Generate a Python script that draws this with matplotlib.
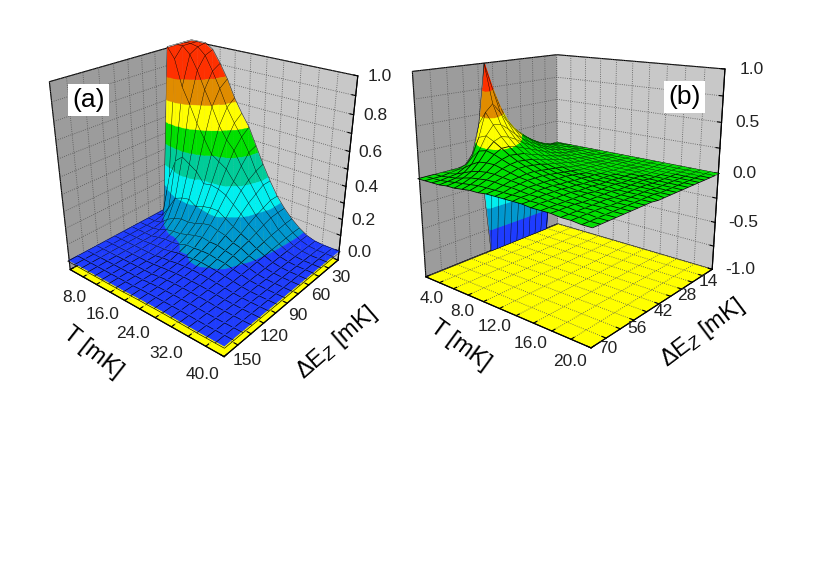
import matplotlib
matplotlib.use('Agg')
import matplotlib.pyplot as plt
import numpy as np
from mpl_toolkits.mplot3d.art3d import Poly3DCollection
from mpl_toolkits.mplot3d import proj3d

plt.rcParams['font.family'] = ['Liberation Sans', 'DejaVu Sans']
plt.rcParams['mathtext.fontset'] = 'custom'
plt.rcParams['mathtext.rm'] = 'Liberation Sans'
plt.rcParams['mathtext.it'] = 'Liberation Sans:italic'

# ---- panel (a): T [mK] x dE_Z [mK] -> value (0..1)
T_a = [0, 2, 4, 6, 8, 10, 12, 14, 16, 18, 20, 22, 24, 26, 28, 30, 32, 34, 36, 38, 40]
dE_a = [0, 10, 20, 30, 40, 50, 60, 70, 80, 90, 100, 110, 120, 130, 140, 150]
Z_a = [
    [1.00, 1.00, 1.00, 1.00, 0.00, 0.00, 0.00, 0.00, 0.00, 0.00, 0.00, 0.00, 0.00, 0.00, 0.00, 0.00],
    [1.00, 1.00, 1.00, 0.94, 0.24, 0.01, 0.00, 0.00, 0.00, 0.00, 0.00, 0.00, 0.00, 0.00, 0.00, 0.00],
    [1.00, 0.99, 0.96, 0.79, 0.36, 0.08, 0.01, 0.00, 0.00, 0.00, 0.00, 0.00, 0.00, 0.00, 0.00, 0.00],
    [0.97, 0.95, 0.88, 0.70, 0.40, 0.16, 0.05, 0.01, 0.00, 0.00, 0.00, 0.00, 0.00, 0.00, 0.00, 0.00],
    [0.90, 0.87, 0.78, 0.60, 0.37, 0.18, 0.075, 0.031, 0.011, 0.004, 0.00, 0.00, 0.00, 0.00, 0.00, 0.00],
    [0.82, 0.78, 0.69, 0.52, 0.34, 0.19, 0.09, 0.04, 0.02, 0.008, 0.00, 0.00, 0.00, 0.00, 0.00, 0.00],
    [0.72, 0.68, 0.59, 0.44, 0.28, 0.16, 0.09, 0.045, 0.02, 0.009, 0.00, 0.00, 0.00, 0.00, 0.00, 0.00],
    [0.64, 0.60, 0.52, 0.41, 0.29, 0.18, 0.10, 0.06, 0.03, 0.016, 0.009, 0.002, 0.00, 0.00, 0.00, 0.00],
    [0.57, 0.53, 0.47, 0.38, 0.28, 0.19, 0.12, 0.075, 0.046, 0.027, 0.012, 0.007, 0.00, 0.00, 0.00, 0.00],
    [0.47, 0.45, 0.39, 0.32, 0.26, 0.19, 0.13, 0.084, 0.047, 0.027, 0.019, 0.011, 0.006, 0.004, 0.003, 0.002],
    [0.37, 0.35, 0.32, 0.28, 0.22, 0.16, 0.116, 0.076, 0.052, 0.036, 0.022, 0.014, 0.01, 0.006, 0.004, 0.003],
    [0.28, 0.28, 0.25, 0.22, 0.18, 0.13, 0.105, 0.076, 0.052, 0.037, 0.024, 0.016, 0.011, 0.007, 0.005, 0.003],
    [0.20, 0.20, 0.18, 0.16, 0.135, 0.106, 0.08, 0.064, 0.045, 0.032, 0.022, 0.015, 0.011, 0.007, 0.005, 0.004],
    [0.14, 0.14, 0.136, 0.12, 0.10, 0.082, 0.068, 0.054, 0.04, 0.028, 0.02, 0.014, 0.01, 0.007, 0.005, 0.004],
    [0.09, 0.088, 0.081, 0.074, 0.064, 0.054, 0.043, 0.034, 0.027, 0.02, 0.015, 0.011, 0.008, 0.006, 0.004, 0.003],
    [0.05, 0.05, 0.046, 0.041, 0.037, 0.031, 0.027, 0.021, 0.017, 0.013, 0.01, 0.0075, 0.006, 0.004, 0.003, 0.002],
    [0.02, 0.02, 0.018, 0.016, 0.014, 0.012, 0.01, 0.008, 0.006, 0.005, 0.004, 0.003, 0.002, 0.002, 0.001, 0.001],
    [0.005, 0.005, 0.005, 0.004, 0.004, 0.003, 0.003, 0.002, 0.002, 0.001, 0.001, 0.001, 0.001, 0.00, 0.00, 0.00],
    [0.00, 0.00, 0.00, 0.00, 0.00, 0.00, 0.00, 0.00, 0.00, 0.00, 0.00, 0.00, 0.00, 0.00, 0.00, 0.00],
    [0.00, 0.00, 0.00, 0.00, 0.00, 0.00, 0.00, 0.00, 0.00, 0.00, 0.00, 0.00, 0.00, 0.00, 0.00, 0.00],
    [0.00, 0.00, 0.00, 0.00, 0.00, 0.00, 0.00, 0.00, 0.00, 0.00, 0.00, 0.00, 0.00, 0.00, 0.00, 0.00],
]

# ---- panel (b): T [mK] x dE_Z [mK] -> value (-1..1)
T_b = [0, 1, 2, 3, 4, 5, 6, 7, 8, 9, 10, 11, 12, 13, 14, 15, 16, 17, 18, 19, 20]
dE_b = [0, 3.5, 7, 10.5, 14, 17.5, 21, 24.5, 28, 31.5, 35, 38.5, 42, 45.5, 49, 52.5, 56, 59.5, 63, 66.5, 70]
Z_b = [
    [0, 0, -1, -1, -1, -1, -1, -1, -1, -1, -1, -1, 0, 0, 0, 0, 0, 0, 0, 0, 0],
    [0, 0.02, 0.03, 0.05, 0.08, 0.12, 0.17, 0.23, 0.30, 0.40, 0.55, 0.75, 1.00, 0.42, 0.14, 0.05, 0.02, 0.01, 0, 0, 0],
    [0, 0.02, 0.03, 0.05, 0.07, 0.10, 0.14, 0.19, 0.25, 0.32, 0.41, 0.52, 0.62, 0.55, 0.32, 0.14, 0.06, 0.02, 0.01, 0, 0],
    [0, 0.01, 0.03, 0.04, 0.06, 0.08, 0.11, 0.15, 0.19, 0.24, 0.30, 0.37, 0.43, 0.44, 0.35, 0.22, 0.11, 0.05, 0.02, 0.01, 0],
    [0, 0.01, 0.02, 0.03, 0.05, 0.07, 0.09, 0.12, 0.15, 0.19, 0.23, 0.28, 0.32, 0.34, 0.31, 0.24, 0.15, 0.08, 0.04, 0.02, 0.01],
    [0, 0.01, 0.02, 0.03, 0.04, 0.05, 0.07, 0.09, 0.12, 0.15, 0.18, 0.21, 0.24, 0.26, 0.26, 0.22, 0.16, 0.10, 0.06, 0.03, 0.01],
    [0, 0.01, 0.01, 0.02, 0.03, 0.04, 0.06, 0.07, 0.09, 0.11, 0.14, 0.16, 0.19, 0.20, 0.21, 0.19, 0.16, 0.11, 0.07, 0.04, 0.02],
    [0, 0, 0.01, 0.02, 0.02, 0.03, 0.04, 0.06, 0.07, 0.09, 0.11, 0.13, 0.15, 0.16, 0.17, 0.16, 0.14, 0.11, 0.08, 0.05, 0.03],
    [0, 0, 0.01, 0.01, 0.02, 0.03, 0.03, 0.04, 0.06, 0.07, 0.09, 0.10, 0.12, 0.13, 0.14, 0.14, 0.12, 0.10, 0.08, 0.05, 0.03],
    [0, 0, 0.01, 0.01, 0.01, 0.02, 0.03, 0.03, 0.04, 0.05, 0.07, 0.08, 0.09, 0.10, 0.11, 0.11, 0.10, 0.09, 0.07, 0.05, 0.04],
    [0, 0, 0, 0.01, 0.01, 0.02, 0.02, 0.03, 0.03, 0.04, 0.05, 0.06, 0.07, 0.08, 0.09, 0.09, 0.09, 0.08, 0.07, 0.05, 0.04],
    [0, 0, 0, 0.01, 0.01, 0.01, 0.02, 0.02, 0.03, 0.03, 0.04, 0.05, 0.06, 0.06, 0.07, 0.07, 0.07, 0.07, 0.06, 0.05, 0.04],
    [0, 0, 0, 0, 0.01, 0.01, 0.01, 0.02, 0.02, 0.03, 0.03, 0.04, 0.04, 0.05, 0.05, 0.06, 0.06, 0.06, 0.05, 0.05, 0.04],
    [0, 0, 0, 0, 0.01, 0.01, 0.01, 0.01, 0.02, 0.02, 0.02, 0.03, 0.03, 0.04, 0.04, 0.05, 0.05, 0.05, 0.05, 0.04, 0.04],
    [0, 0, 0, 0, 0, 0.01, 0.01, 0.01, 0.01, 0.02, 0.02, 0.02, 0.03, 0.03, 0.03, 0.04, 0.04, 0.04, 0.04, 0.04, 0.03],
    [0, 0, 0, 0, 0, 0, 0.01, 0.01, 0.01, 0.01, 0.02, 0.02, 0.02, 0.02, 0.03, 0.03, 0.03, 0.03, 0.03, 0.03, 0.03],
    [0, 0, 0, 0, 0, 0, 0, 0.01, 0.01, 0.01, 0.01, 0.01, 0.02, 0.02, 0.02, 0.02, 0.02, 0.03, 0.03, 0.03, 0.03],
    [0, 0, 0, 0, 0, 0, 0, 0, 0.01, 0.01, 0.01, 0.01, 0.01, 0.01, 0.02, 0.02, 0.02, 0.02, 0.02, 0.02, 0.02],
    [0, 0, 0, 0, 0, 0, 0, 0, 0, 0.01, 0.01, 0.01, 0.01, 0.01, 0.01, 0.01, 0.02, 0.02, 0.02, 0.02, 0.02],
    [0, 0, 0, 0, 0, 0, 0, 0, 0, 0, 0.01, 0.01, 0.01, 0.01, 0.01, 0.01, 0.01, 0.01, 0.01, 0.01, 0.01],
    [0, 0, 0, 0, 0, 0, 0, 0, 0, 0, 0, 0, 0.01, 0.01, 0.01, 0.01, 0.01, 0.01, 0.01, 0.01, 0.01],
]

band_colors = ['#1e3cff', '#0098d0', '#00f0f0', '#00cc99', '#00e000', '#ffff00', '#e08c00', '#ff3000']
levels_a = [0.029, 0.164, 0.298, 0.433, 0.567, 0.701, 0.836]
levels_b = [-0.76, -0.51, -0.26, -0.01, 0.25, 0.5, 0.75]

T_ticks_a = [0, 4, 8, 12, 16, 20, 24, 28, 32, 36, 40]
T_labels_a = ['', '', '8.0', '', '16.0', '', '24.0', '', '32.0', '', '40.0']
dE_ticks_a = [0, 15, 30, 45, 60, 75, 90, 105, 120, 135, 150]
dE_labels_a = ['', '', '30', '', '60', '', '90', '', '120', '', '150']
z_ticks_a = [0, 0.1, 0.2, 0.3, 0.4, 0.5, 0.6, 0.7, 0.8, 0.9, 1.0]
z_labels_a = ['0.0', '', '0.2', '', '0.4', '', '0.6', '', '0.8', '', '1.0']

T_ticks_b = [0, 2, 4, 6, 8, 10, 12, 14, 16, 18, 20]
T_labels_b = ['', '', '4.0', '', '8.0', '', '12.0', '', '16.0', '', '20.0']
dE_ticks_b = [0, 7, 14, 21, 28, 35, 42, 49, 56, 63, 70]
dE_labels_b = ['', '', '14', '', '28', '', '42', '', '56', '', '70']
z_ticks_b = [-1.0, -0.75, -0.5, -0.25, 0.0, 0.25, 0.5, 0.75, 1.0]
z_labels_b = ['-1.0', '', '-0.5', '', '0.0', '', '0.5', '', '1.0']


def clip(poly, level, keep_above):
    out = []
    n = len(poly)
    for i in range(n):
        p, q = poly[i], poly[(i + 1) % n]
        p_in = p[2] >= level if keep_above else p[2] <= level
        q_in = q[2] >= level if keep_above else q[2] <= level
        if p_in:
            out.append(p)
        if p_in != q_in:
            t = (level - p[2]) / (q[2] - p[2])
            out.append(p + t * (q - p))
    return out


def poly_area(pts, scale):
    s = pts / scale
    tot = np.zeros(3)
    for i in range(len(s)):
        tot += np.cross(s[i], s[(i + 1) % len(s)])
    return 0.5 * np.linalg.norm(tot)


def banded_surface(ax, dE, T, Z, levels, scale, lift, mesh_lw):
    # surface split into colour bands like a filled contour, plus the black mesh
    EE, TT = np.meshgrid(np.array(dE, float), np.array(T, float))
    P = np.stack([EE, TT, np.array(Z, float)], axis=-1)
    bounds = [-np.inf] + list(levels) + [np.inf]
    polys, fcs, ecs, lws = [], [], [], []
    nT, nE = P.shape[:2]
    for i in range(nT - 1):
        for j in range(nE - 1):
            a, b, c, d = P[i, j], P[i, j + 1], P[i + 1, j + 1], P[i + 1, j]
            for tri in ((a, b, c), (a, c, d)):
                for k, col in enumerate(band_colors):
                    piece = clip(clip(list(tri), bounds[k], True), bounds[k + 1], False)
                    if len(piece) < 3:
                        continue
                    piece = np.array(piece)
                    if poly_area(piece, scale) < 1e-9:
                        continue
                    polys.append(piece)
                    fcs.append(col)
                    ecs.append(col)
                    lws.append(0.3)
    # mesh lines, nudged a hair toward the viewer so they sort above their own cells
    segs = []
    for i in range(nT):
        for j in range(nE - 1):
            segs.append((P[i, j], P[i, j + 1]))
    for j in range(nE):
        for i in range(nT - 1):
            segs.append((P[i, j], P[i + 1, j]))
    for p, q in segs:
        polys.append(np.array([p + lift, q + lift]))
        fcs.append('none')
        ecs.append('k')
        lws.append(mesh_lw)
    ax.add_collection3d(Poly3DCollection(polys, facecolors=fcs, edgecolors=ecs,
                                         linewidths=lws))


def draw_panel(ax, T, dE, Z, levels, zlim, ticks, view, aspect, zoom, mesh_lw):
    ax.set_proj_type('persp', focal_length=view[2])
    ax.view_init(elev=view[0], azim=view[1])
    ax.set_box_aspect(aspect, zoom=zoom)
    ax.set_xlim(dE[0], dE[-1])
    ax.set_ylim(T[0], T[-1])
    ax.set_zlim(*zlim)
    ax.set_facecolor('none')

    scale = np.array([dE[-1] - dE[0], T[-1] - T[0], zlim[1] - zlim[0]], float)
    el, az = np.deg2rad(view[0]), np.deg2rad(view[1])
    asp = np.array(aspect, float) / np.linalg.norm(aspect)
    eye_dir = np.array([np.cos(el) * np.cos(az), np.cos(el) * np.sin(az), np.sin(el)])
    lift = 0.02 * eye_dir * scale / asp
    banded_surface(ax, dE, T, Z, levels, scale, lift, mesh_lw)

    (xt, xl), (yt, yl), (zt, zl) = ticks
    ax.set_xticks(xt)
    ax.set_yticks(yt)
    ax.set_zticks(zt)

    for axis, col in ((ax.xaxis, '#c8c8c8'), (ax.yaxis, '#9c9c9c'), (ax.zaxis, '#ffff00')):
        axis.set_pane_color(col, alpha=1.0)
        axis.pane.set_edgecolor('k')
        axis.pane.set_linewidth(0.8)
        axis._axinfo['grid'].update(color='#555555', linewidth=0.6, linestyle=':')
        axis._axinfo['tick'].update(inward_factor=0.0, outward_factor=0.25)
        axis.line.set_color('k')
        axis.set_tick_params(labelbottom=False)
    ax.zaxis.set_ticks_position('upper')


def tick_texts(ax, T, dE, zlim, ticks, offs):
    # tick labels placed just outside the front edges of the box (projected to 2D)
    inv = fig.transFigure.inverted()

    def put(x, y, z, s, ha):
        X, Y, _ = proj3d.proj_transform(x, y, z, ax.M)
        fx, fy = inv.transform(ax.transData.transform((X, Y)))
        fig.text(fx, fy, s, fontsize=12.5, color='#222222', ha=ha, va='center')

    (xt, xl), (yt, yl), (zt, zl) = ticks
    z0 = zlim[0]
    dx, dzl, ey, ez, zx, zy = offs
    for v, s in zip(yt, yl):
        if s:
            put(dE[-1] + dx, v, z0 + dzl, s, 'center')
    for v, s in zip(xt, xl):
        if s:
            put(v, T[-1] + ey, z0 + ez, s, 'center')
    for v, s in zip(zt, zl):
        if s:
            put(dE[0] - zx, T[-1] + zy, v, s, 'left')


fig = plt.figure(figsize=(8.17, 5.71), dpi=100)

ticks_a = ((dE_ticks_a, dE_labels_a), (T_ticks_a, T_labels_a), (z_ticks_a, z_labels_a))
ticks_b = ((dE_ticks_b, dE_labels_b), (T_ticks_b, T_labels_b), (z_ticks_b, z_labels_b))

ax1 = fig.add_axes([-0.005, 0.318, 0.5, 0.72], projection='3d')
draw_panel(ax1, T_a, dE_a, Z_a, levels_a, (-0.06, 1.0), ticks_a,
           (26, 40, 0.29), (1.0, 1.05, 1.04), 0.84, 0.45)

ax2 = fig.add_axes([0.442, 0.322, 0.5, 0.72], projection='3d')
draw_panel(ax2, T_b, dE_b, Z_b, levels_b, (-1.0, 1.0), ticks_b,
           (16, 40, 0.3), (1.0, 1.05, 1.02), 0.87, 0.55)

fig.canvas.draw()
tick_texts(ax1, T_a, dE_a, (-0.06, 1.0), ticks_a, (22, 0.0, 4.7, 0.05, 3, 1.5))
tick_texts(ax2, T_b, dE_b, (-1.0, 1.0), ticks_b, (9, 0.0, 1.6, 0.06, 3, 1.0))

fig.text(0.108, 0.825, '(a)', fontsize=19, ha='center', va='center',
         bbox=dict(facecolor='white', edgecolor='none', pad=3))
fig.text(0.838, 0.83, '(b)', fontsize=19, ha='center', va='center',
         bbox=dict(facecolor='white', edgecolor='none', pad=3))

fig.text(0.114, 0.382, 'T [mK]', fontsize=17, rotation=-38, ha='center', va='center')
fig.text(0.412, 0.399, r'ΔE$_Z$ [mK]', fontsize=17, rotation=41, ha='center', va='center')
fig.text(0.563, 0.396, 'T [mK]', fontsize=17, rotation=-36, ha='center', va='center')
fig.text(0.859, 0.417, r'ΔE$_Z$ [mK]', fontsize=17, rotation=37, ha='center', va='center')

fig.savefig('out.png', dpi=100)
